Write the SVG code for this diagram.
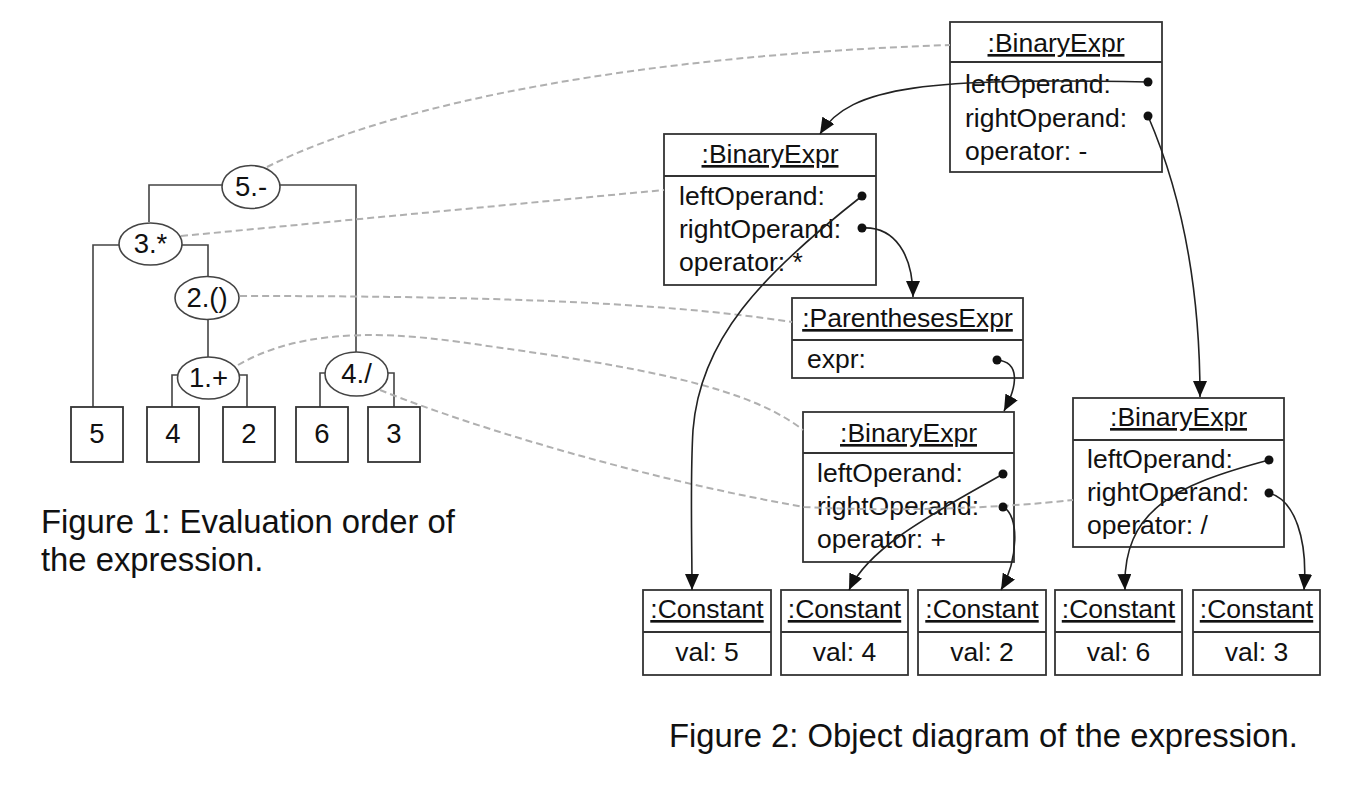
<svg xmlns="http://www.w3.org/2000/svg" width="1372" height="796" viewBox="0 0 1372 796">
<style>
.t{font-family:"Liberation Sans",Arial,sans-serif;font-size:26.5px;fill:#111}
.n{font-size:27.5px}
.c{text-anchor:middle}
.u{text-decoration:underline}
.cap{font-family:"Liberation Sans",Arial,sans-serif;font-size:32.8px;fill:#111}
.box{fill:none;stroke:#333;stroke-width:1.8}
.tb{fill:#fff;stroke:#333;stroke-width:1.8}
.tree{fill:none;stroke:#444;stroke-width:1.6}
.ell{fill:#fff;stroke:#444;stroke-width:1.6}
.dash{fill:none;stroke:#b0b0b0;stroke-width:2;stroke-dasharray:7 4}
.ref{fill:none;stroke:#222;stroke-width:1.6;marker-start:url(#dot);marker-end:url(#arr)}
</style>
<defs>
<marker id="arr" viewBox="0 0 16 14" refX="16" refY="7" markerWidth="16" markerHeight="14" markerUnits="userSpaceOnUse" orient="auto"><path d="M0,0 L16,7 L0,14 z" fill="#111"/></marker>
<marker id="dot" viewBox="0 0 10 10" refX="5" refY="5" markerWidth="10" markerHeight="10" markerUnits="userSpaceOnUse"><circle cx="5" cy="5" r="4.5" fill="#111"/></marker>
</defs>
<rect width="1372" height="796" fill="#fff"/>

<g id="tree-edges">
<path class="tree" d="M149,222 V185 H356 V352"/>
<path class="tree" d="M93,407 V245 H208 V277"/>
<path class="tree" d="M208,320 V357"/>
<path class="tree" d="M172,407 V375 H247 V407"/>
<path class="tree" d="M320,407 V373 H394 V407"/>
</g>

<g id="op5"><ellipse class="ell" cx="251" cy="187" rx="29" ry="21.5"/><text class="t n c" x="251" y="196">5.-</text></g>
<g id="op3"><ellipse class="ell" cx="150.5" cy="244" rx="31.5" ry="21"/><text class="t n c" x="150.5" y="253">3.*</text></g>
<g id="op2"><ellipse class="ell" cx="207" cy="298" rx="32" ry="21.5"/><text class="t n c" x="207" y="307">2.()</text></g>
<g id="op1"><ellipse class="ell" cx="208.5" cy="378" rx="31" ry="21"/><text class="t n c" x="208.5" y="387">1.+</text></g>
<g id="op4"><ellipse class="ell" cx="356.5" cy="374" rx="31.5" ry="22"/><text class="t n c" x="356.5" y="383">4./</text></g>

<g id="leaf5"><rect class="tb" x="71" y="407" width="52" height="55"/><text class="t n c" x="97" y="443">5</text></g>
<g id="leaf4"><rect class="tb" x="147" y="407" width="52" height="55"/><text class="t n c" x="173" y="443">4</text></g>
<g id="leaf2"><rect class="tb" x="223" y="407" width="52" height="55"/><text class="t n c" x="249" y="443">2</text></g>
<g id="leaf6"><rect class="tb" x="296" y="407" width="52" height="55"/><text class="t n c" x="322" y="443">6</text></g>
<g id="leaf3"><rect class="tb" x="368" y="407" width="52" height="55"/><text class="t n c" x="394" y="443">3</text></g>

<g id="caption1"><text class="cap" x="41" y="533">Figure 1: Evaluation order of</text><text class="cap" x="41" y="571">the expression.</text></g>

<g id="bin-minus"><rect class="box" x="950" y="22" width="212" height="150"/><line class="box" x1="950" y1="62" x2="1162" y2="62"/>
<text class="t c u" x="1056" y="52">:BinaryExpr</text>
<text class="t" x="965" y="93">leftOperand:</text><text class="t" x="965" y="127">rightOperand:</text><text class="t" x="965" y="160">operator: -</text></g>

<g id="bin-times"><rect class="box" x="664" y="134" width="212" height="151"/><line class="box" x1="664" y1="176" x2="876" y2="176"/>
<text class="t c u" x="770" y="163">:BinaryExpr</text>
<text class="t" x="679" y="205">leftOperand:</text><text class="t" x="679" y="238">rightOperand:</text><text class="t" x="679" y="271">operator: *</text></g>

<g id="paren"><rect class="box" x="792" y="298" width="231" height="80"/><line class="box" x1="792" y1="340" x2="1023" y2="340"/>
<text class="t c u" x="907.5" y="327">:ParenthesesExpr</text>
<text class="t" x="807" y="368">expr:</text></g>

<g id="bin-plus"><rect class="box" x="803" y="412" width="211" height="150"/><line class="box" x1="803" y1="453" x2="1014" y2="453"/>
<text class="t c u" x="908.5" y="442">:BinaryExpr</text>
<text class="t" x="817" y="482">leftOperand:</text><text class="t" x="817" y="515">rightOperand:</text><text class="t" x="817" y="548">operator: +</text></g>

<g id="bin-div"><rect class="box" x="1073" y="398" width="211" height="149"/><line class="box" x1="1073" y1="440" x2="1284" y2="440"/>
<text class="t c u" x="1178.5" y="426">:BinaryExpr</text>
<text class="t" x="1087" y="468">leftOperand:</text><text class="t" x="1087" y="501">rightOperand:</text><text class="t" x="1087" y="534">operator: /</text></g>

<g id="const5"><rect class="box" x="643" y="590" width="128" height="85"/><line class="box" x1="643" y1="632" x2="771" y2="632"/><text class="t c u" x="707" y="618">:Constant</text><text class="t c" x="707" y="661">val: 5</text></g>
<g id="const4"><rect class="box" x="781" y="590" width="127" height="85"/><line class="box" x1="781" y1="632" x2="908" y2="632"/><text class="t c u" x="844.5" y="618">:Constant</text><text class="t c" x="844.5" y="661">val: 4</text></g>
<g id="const2"><rect class="box" x="918" y="590" width="128" height="85"/><line class="box" x1="918" y1="632" x2="1046" y2="632"/><text class="t c u" x="982" y="618">:Constant</text><text class="t c" x="982" y="661">val: 2</text></g>
<g id="const6"><rect class="box" x="1055" y="590" width="127" height="85"/><line class="box" x1="1055" y1="632" x2="1182" y2="632"/><text class="t c u" x="1118.5" y="618">:Constant</text><text class="t c" x="1118.5" y="661">val: 6</text></g>
<g id="const3"><rect class="box" x="1193" y="590" width="127" height="85"/><line class="box" x1="1193" y1="632" x2="1320" y2="632"/><text class="t c u" x="1256.5" y="618">:Constant</text><text class="t c" x="1256.5" y="661">val: 3</text></g>

<g id="caption2"><text class="cap" x="669" y="747">Figure 2: Object diagram of the expression.</text></g>

<g id="connectors">
<path class="dash" d="M267,167 C400,100 650,55 950,45"/>
<path class="dash" d="M181,236 L664,190"/>
<path class="dash" d="M240,296 C450,296 650,300 792,322"/>
<path class="dash" d="M238,365 C290,335 360,328 460,342 C600,362 740,380 803,430"/>
<path class="dash" d="M380,390 C480,430 650,480 804,507 C900,512 1000,508 1073,500"/>
<path class="ref" d="M1148,82 C930,78 850,85 820,134"/>
<path class="ref" d="M1148,116 C1180,190 1200,280 1200,397"/>
<path class="ref" d="M862,196 C760,276 700,340 693,430 C690,480 692,540 692,590"/>
<path class="ref" d="M862,228 C895,226 913,255 913,297"/>
<path class="ref" d="M997,360 C1020,362 1018,385 1004,411"/>
<path class="ref" d="M1003,474 C940,510 870,545 849,590"/>
<path class="ref" d="M1003,507 C1020,515 1018,560 1001,590"/>
<path class="ref" d="M1269,460 C1175,485 1122,510 1125,590"/>
<path class="ref" d="M1269,493 C1295,500 1308,540 1304,590"/>
</g>
</svg>
